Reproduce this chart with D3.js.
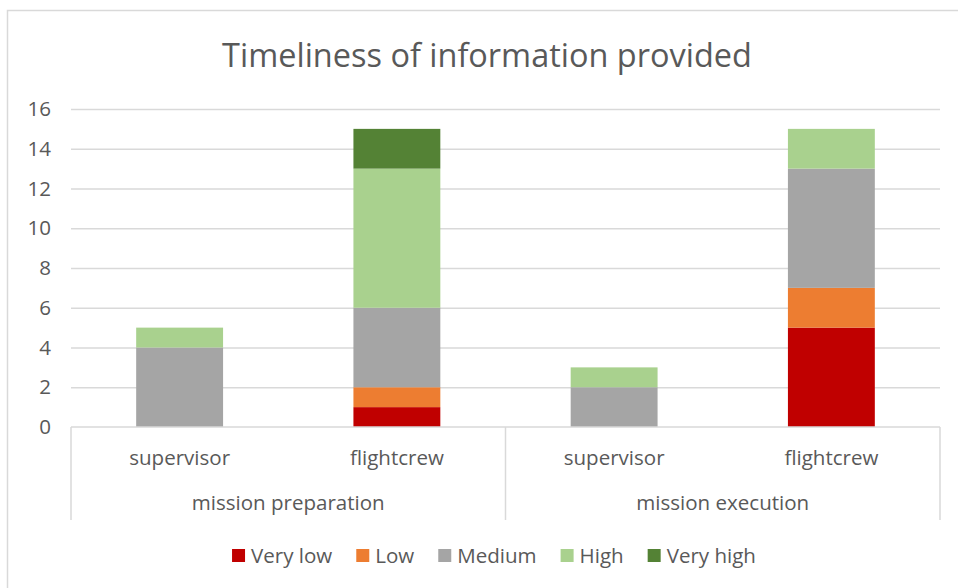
<!DOCTYPE html>
<html>
<head>
<meta charset="utf-8">
<script src="https://cdn.jsdelivr.net/npm/d3@7"></script>
<style>
  html, body { margin: 0; padding: 0; background: #fff; }
  svg { display: block; }
  text { font-family: "Open Sans", "Noto Sans", sans-serif; fill: #595959; }
</style>
</head>
<body>
<svg id="chart" width="958" height="588"></svg>
<script>
// ---- data ----
const title = "Timeliness of information provided";
const groups = ["mission preparation", "mission execution"];
const roles = ["supervisor", "flightcrew"];
const seriesNames = ["Very low", "Low", "Medium", "High", "Very high"];
const veryLow  = [0, 1, 0, 5];
const low      = [0, 1, 0, 2];
const medium   = [4, 4, 2, 6];
const high     = [1, 7, 1, 2];
const veryHigh = [0, 2, 0, 0];
const yTicks = [0, 2, 4, 6, 8, 10, 12, 14, 16];
const colors = ["#C00000", "#ED7D31", "#A5A5A5", "#A9D18E", "#548235"];

// ---- build table ----
const seriesValues = [veryLow, low, medium, high, veryHigh];
const cats = [];
groups.forEach(g => roles.forEach(r => cats.push({ key: g + "|" + r, group: g, role: r })));
const table = cats.map((c, i) => {
  const row = { key: c.key };
  seriesNames.forEach((s, j) => row[s] = seriesValues[j][i]);
  return row;
});
const stacked = d3.stack().keys(seriesNames)(table);

const svg = d3.select("#chart");
const W = 958, H = 588;
const plot = { left: 71, right: 940, top: 109, bottom: 427 };

// chart border
svg.append("rect").attr("x", 7.5).attr("y", 10.5).attr("width", W).attr("height", H)
  .attr("fill", "none").attr("stroke", "#D9D9D9").attr("stroke-width", 1.5);

const x = d3.scaleBand().domain(cats.map(c => c.key))
  .range([plot.left, plot.right]).paddingInner(0.6).paddingOuter(0.3);
const y = d3.scaleLinear().domain([0, 16]).range([plot.bottom, plot.top]);

function fit(sel, target) {
  const base = 20;
  sel.style("font-size", base + "px");
  const w = sel.node().getComputedTextLength();
  const fs = base * target / w;
  sel.style("font-size", fs + "px");
  return fs;
}

// title
const t = svg.append("text").attr("x", 487).attr("y", 67).attr("text-anchor", "middle").text(title);
fit(t, 530);

// measure label font size
const probe = svg.append("text").text("mission preparation");
const lfs = fit(probe, 193);
probe.remove();

// gridlines + y axis labels
const yAxis = d3.axisLeft(y).tickValues(yTicks).tickSize(-(plot.right - plot.left)).tickPadding(20);
const yg = svg.append("g").attr("transform", `translate(${plot.left},0)`).call(yAxis);
yg.select(".domain").remove();
yg.selectAll(".tick line").attr("stroke", "#D9D9D9").attr("stroke-width", 1.3)
  .filter(d => d === 0).remove();
yg.selectAll(".tick text").attr("fill", "#595959").style("font-size", lfs + "px")
  .style("font-family", '"Open Sans", "Noto Sans", sans-serif').attr("x", -20);

// bars
svg.append("g").selectAll("g").data(stacked).join("g")
  .attr("fill", (d, i) => colors[i])
  .selectAll("rect").data(d => d).join("rect")
  .attr("x", d => x(d.data.key))
  .attr("width", x.bandwidth())
  .attr("y", d => y(d[1]))
  .attr("height", d => y(d[0]) - y(d[1]));

// category axis
const axisCol = "#D9D9D9";
svg.append("line").attr("x1", plot.left).attr("x2", plot.right)
  .attr("y1", plot.bottom).attr("y2", plot.bottom).attr("stroke", axisCol).attr("stroke-width", 1.5);
const sepX = [plot.left, (plot.left + plot.right) / 2, plot.right];
svg.selectAll(".sep").data(sepX).join("line")
  .attr("x1", d => d).attr("x2", d => d).attr("y1", plot.bottom).attr("y2", 520)
  .attr("stroke", axisCol).attr("stroke-width", 1.5);

svg.selectAll(".role").data(cats).join("text")
  .attr("x", d => x(d.key) + x.bandwidth() / 2).attr("y", 465)
  .attr("text-anchor", "middle").style("font-size", lfs + "px").text(d => d.role);

const groupScale = d3.scaleBand().domain(groups).range([plot.left, plot.right]);
svg.selectAll(".grp").data(groups).join("text")
  .attr("x", d => groupScale(d) + groupScale.bandwidth() / 2).attr("y", 510)
  .attr("text-anchor", "middle").style("font-size", lfs + "px").text(d => d);

// legend
const lg = svg.append("g");
const items = lg.selectAll("g").data(seriesNames).join("g");
items.append("rect").attr("width", 13).attr("height", 13).attr("y", 549)
  .attr("fill", (d, i) => colors[i]);
items.append("text").attr("x", 19).attr("y", 563).style("font-size", lfs + "px").text(d => d);
let cx = 0;
const gap = 24;
const widths = [];
items.each(function () {
  const w = 19 + d3.select(this).select("text").node().getComputedTextLength();
  widths.push(w);
});
const total = d3.sum(widths) + gap * (widths.length - 1);
let start = 494 - total / 2;
items.attr("transform", (d, i) => {
  const tx = start;
  start += widths[i] + gap;
  return `translate(${tx},0)`;
});
</script>
</body>
</html>
